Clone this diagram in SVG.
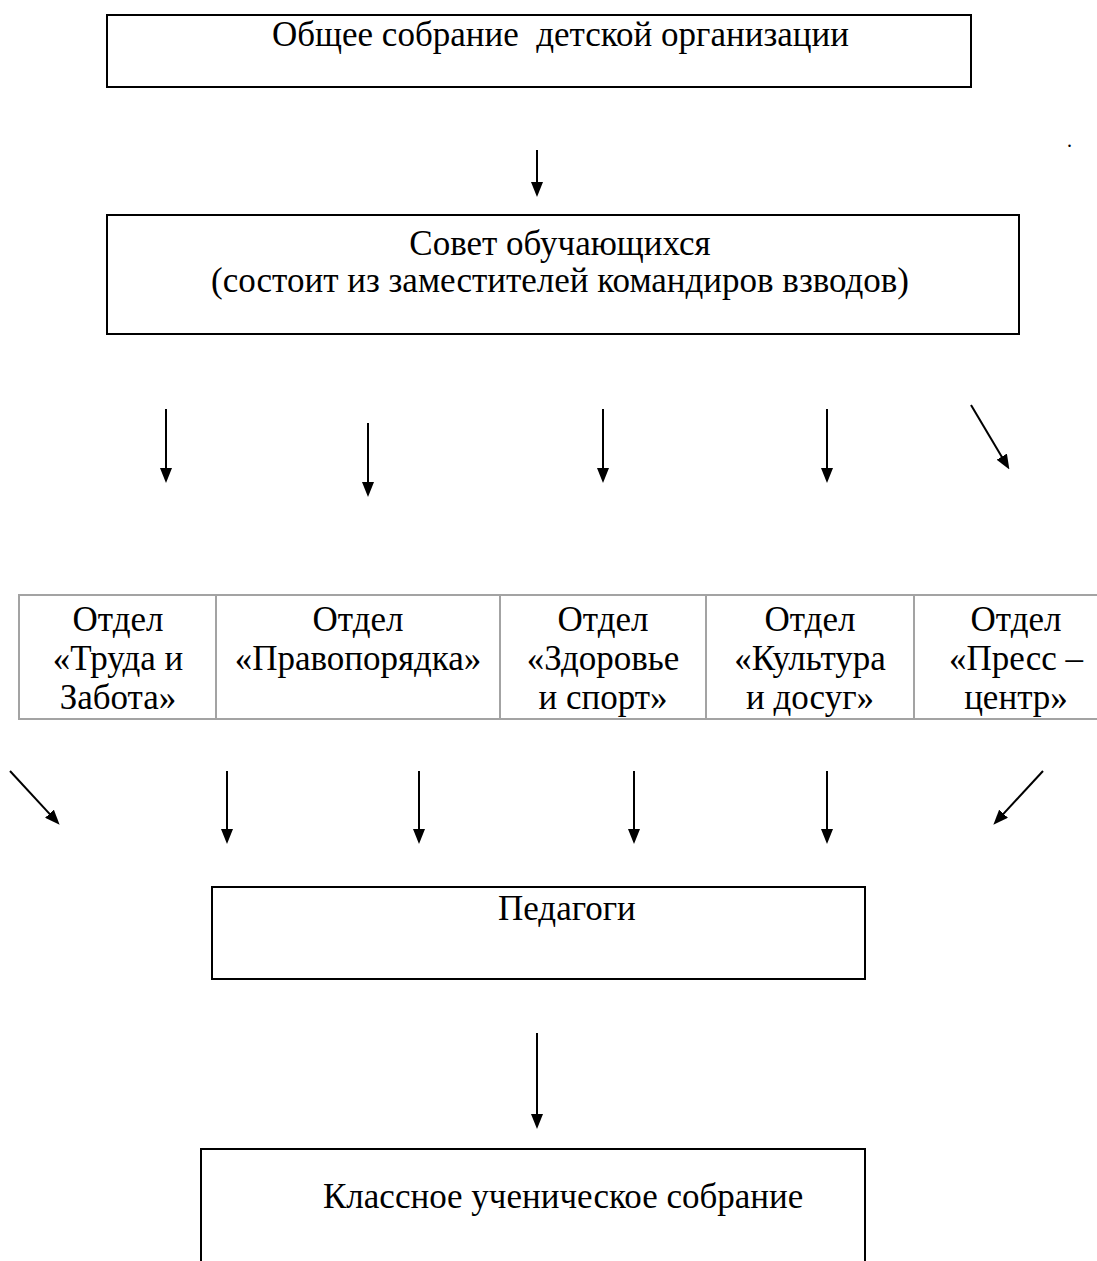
<svg xmlns="http://www.w3.org/2000/svg" width="1097" height="1261" viewBox="0 0 1097 1261">
<style>
.box{fill:#fff;stroke:#000;stroke-width:2}
.t{font-family:"Liberation Serif","Times New Roman",serif;font-size:35px;fill:#000;white-space:pre}
.c{text-anchor:middle}
.grid{stroke:#a3a3a3;stroke-width:2;fill:none}
.conn line{stroke:#000;stroke-width:2;marker-end:url(#ah)}
</style>
<defs>
<marker id="ah" viewBox="0 0 15 12" refX="7" refY="6" markerWidth="15" markerHeight="12" markerUnits="userSpaceOnUse" orient="auto">
<path d="M0,0 L15,6 L0,12 z" fill="#000"/>
</marker>
</defs>
<rect width="1097" height="1261" fill="#fff"/>

<g id="n-general">
<rect class="box" x="107" y="15" width="864" height="72"/>
<text class="t" x="272" y="46">Общее собрание  детской организации</text>
</g>

<text class="t" x="1067" y="147" style="font-size:20px">.</text>

<g id="n-council">
<rect class="box" x="107" y="215" width="912" height="119"/>
<text class="t c" x="560" y="255">Совет обучающихся</text>
<text class="t c" x="560" y="292">(состоит из заместителей командиров взводов)</text>
</g>

<g id="n-departments">
<path class="grid" d="M19,595 H1097 M19,719 H1097 M19,594 V720 M216,595 V719 M500,595 V719 M706,595 V719 M914,595 V719"/>
<g id="d1">
<text class="t c" x="118" y="631">Отдел</text>
<text class="t c" x="118" y="670">«Труда и</text>
<text class="t c" x="118" y="709">Забота»</text>
</g>
<g id="d2">
<text class="t c" x="358" y="631">Отдел</text>
<text class="t c" x="358" y="670">«Правопорядка»</text>
</g>
<g id="d3">
<text class="t c" x="603" y="631">Отдел</text>
<text class="t c" x="603" y="670">«Здоровье</text>
<text class="t c" x="603" y="709">и спорт»</text>
</g>
<g id="d4">
<text class="t c" x="810" y="631">Отдел</text>
<text class="t c" x="810" y="670">«Культура</text>
<text class="t c" x="810" y="709">и досуг»</text>
</g>
<g id="d5">
<text class="t c" x="1016" y="631">Отдел</text>
<text class="t c" x="1016" y="670">«Пресс –</text>
<text class="t c" x="1016" y="709">центр»</text>
</g>
</g>

<g id="n-teachers">
<rect class="box" x="212" y="887" width="653" height="92"/>
<text class="t" x="498" y="920">Педагоги</text>
</g>

<g id="n-class">
<rect class="box" x="201" y="1149" width="664" height="130"/>
<text class="t" x="323" y="1208">Классное ученическое собрание</text>
</g>

<g id="connectors" class="conn">
<line x1="537" y1="150" x2="537" y2="189"/>
<line x1="166" y1="409" x2="166" y2="475"/>
<line x1="368" y1="423" x2="368" y2="489"/>
<line x1="603" y1="409" x2="603" y2="475"/>
<line x1="827" y1="409" x2="827" y2="475"/>
<line x1="971" y1="405" x2="1005.3" y2="462.7"/>
<line x1="10" y1="771" x2="54.2" y2="818.9"/>
<line x1="227" y1="771" x2="227" y2="836"/>
<line x1="419" y1="771" x2="419" y2="836"/>
<line x1="634" y1="771" x2="634" y2="836"/>
<line x1="827" y1="771" x2="827" y2="836"/>
<line x1="1043" y1="771" x2="998.8" y2="818.9"/>
<line x1="537" y1="1033" x2="537" y2="1121"/>
</g>
</svg>
